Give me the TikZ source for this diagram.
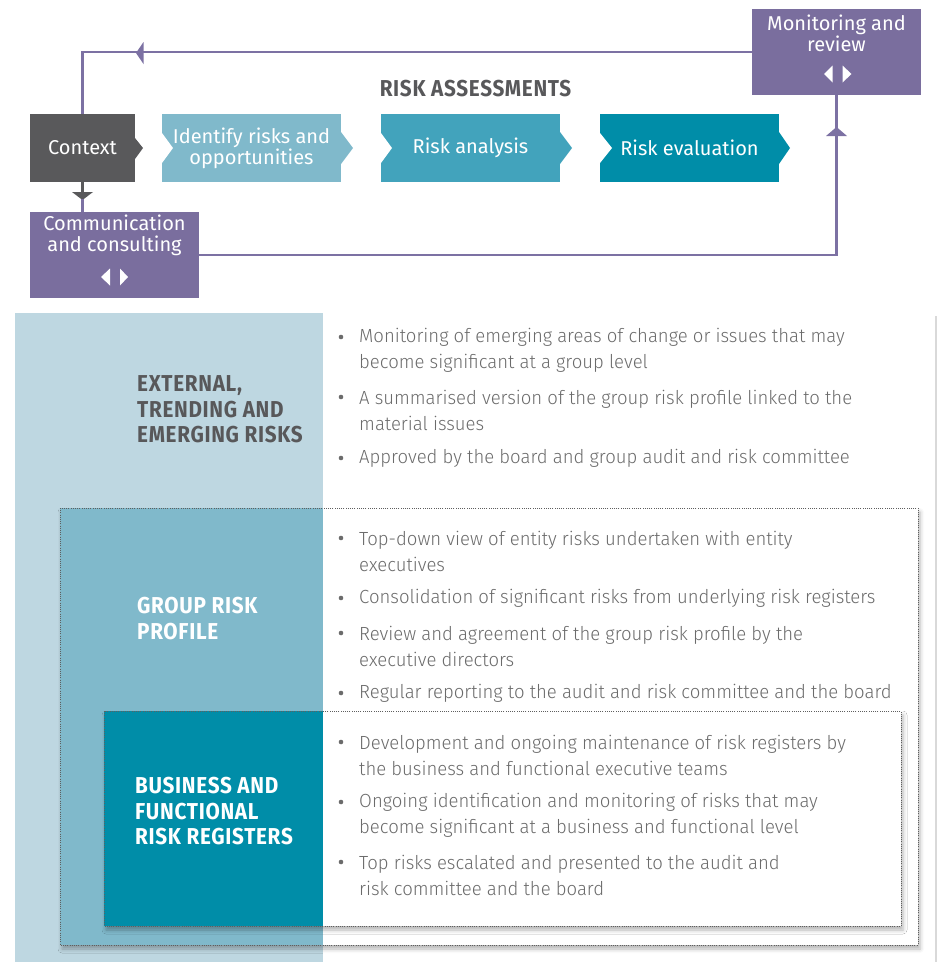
\documentclass[tikz,border=0pt]{standalone}
\usepackage{fontspec}
\setmainfont{Fira Sans}[UprightFont=* Light, BoldFont=* SemiBold, FakeStretch=0.975]
\newfontfamily\boxfont{Fira Sans}
\newfontfamily\headfont{Fira Sans}[UprightFont=* Bold, FakeStretch=0.9, LetterSpace=3]
\usetikzlibrary{shadows.blur}

\definecolor{plum}{HTML}{7A6E9E}
\definecolor{plumline}{HTML}{7C71A3}
\definecolor{cdark}{HTML}{59595B}
\definecolor{clight}{HTML}{80B9CB}
\definecolor{cmid}{HTML}{42A3BC}
\definecolor{cdeep}{HTML}{008DA8}
\definecolor{pale}{HTML}{BED7E1}
\definecolor{ink}{HTML}{6B6B6B}
\definecolor{headgrey}{HTML}{58585A}
\definecolor{dotgrey}{HTML}{5F5F5F}

\begin{document}
\begin{tikzpicture}[x=1pt,y=-1pt,
  stepbox/.style={rectangle, inner sep=0pt, outer sep=0pt, minimum height=68,
    text=white, font=\boxfont\fontsize{20}{21}\selectfont, align=center},
  purplebox/.style={rectangle, fill=plum, inner sep=0pt, outer sep=0pt,
    minimum width=169, minimum height=86},
  boxlabel/.style={text=white, font=\boxfont\fontsize{20}{21}\selectfont,
    align=center, inner sep=0pt},
  flow/.style={draw=plumline, line width=2.6pt},
  bullettext/.style={anchor=west, inner sep=0pt, text=ink, align=left,
    font=\fontsize{19}{26}\selectfont},
  heading/.style={anchor=west, inner sep=0pt, align=left,
    font=\headfont\fontsize{23}{25.5}\selectfont},
  dotborder/.style={draw=dotgrey, line width=1pt, dash pattern=on 1pt off 1.2pt},
  tierbox/.style={fill=white, blur shadow={shadow xshift=2pt, shadow yshift=-4pt,
    shadow blur radius=4pt, shadow opacity=30}},
]
\useasboundingbox (0,0) rectangle (938,962);

% ---------- process steps ----------
\node[stepbox, fill=cdark, minimum width=105] (ctx) at (82.5,148) {Context};
\fill[cdark] (ctx.north east) ++(0,24) -- ++(8,10) -- ++(-8,11) -- cycle;

\node[stepbox, fill=clight, minimum width=179] (idf) at (251.5,148) {Identify risks and\\opportunities};
\fill[clight] (idf.north east) ++(0,18) -- ++(12,16) -- ++(-12,16) -- cycle;
\fill[white] (idf.north west) ++(0,19) -- ++(11,15) -- ++(-11,15) -- cycle;

\node[stepbox, fill=cmid, minimum width=179] (ana) at (470.5,148) {Risk analysis};
\fill[cmid] (ana.north east) ++(0,18) -- ++(12,16) -- ++(-12,16) -- cycle;
\fill[white] (ana.north west) ++(0,19) -- ++(11,15) -- ++(-11,15) -- cycle;

\node[stepbox, fill=cdeep, minimum width=179] (evl) at (689.5,148) {Risk evaluation};
\fill[cdeep] (evl.north east) ++(0,18) -- ++(11,16) -- ++(-11,16) -- cycle;
\fill[white] (evl.north west) ++(0,19) -- ++(12,15) -- ++(-12,15) -- cycle;

\node[text=headgrey, inner sep=0pt, font=\headfont\fontsize{23}{25}\selectfont]
  (ra) at (475.5,89) {RISK ASSESSMENTS};

% ---------- monitoring and communication ----------
\node[purplebox] (mon) at (836.5,52) {};
\node[boxlabel] (monlbl) at ([yshift=18.5pt]mon.center) {Monitoring and\\review};
\fill[white] ([xshift=-12.5pt,yshift=-22pt]mon.center) -- ++(8.5,-8.5) -- ++(0,17) -- cycle;
\fill[white] ([xshift=15pt,yshift=-22pt]mon.center) -- ++(-9,-8.5) -- ++(0,17) -- cycle;

\node[purplebox] (com) at (114.5,255) {};
\node[boxlabel] (comlbl) at ([yshift=19.5pt]com.center) {Communication\\and consulting};
\fill[white] ([xshift=-13.5pt,yshift=-22pt]com.center) -- ++(9,-8.5) -- ++(0,17) -- cycle;
\fill[white] ([xshift=13.5pt,yshift=-22pt]com.center) -- ++(-8,-8.5) -- ++(0,17) -- cycle;

% ---------- feedback loops ----------
\coordinate (tl) at (ctx.north |- mon.west);
\draw[flow] (mon.west) -- (tl) -- (ctx.north);
\coordinate (backtip) at (136,53);
\fill[plumline] (backtip) -- ++(7.5,-11) -- ++(0,22) -- cycle;

\coordinate (downbase) at ([yshift=-10pt]ctx.south);
\draw[draw=cdark, line width=2.6pt] (ctx.south) -- (downbase);
\fill[cdark] ([xshift=-10.5pt]downbase) -- ([xshift=10.5pt]downbase) -- ++(-10.5,8) -- cycle;
\draw[flow] ([yshift=-7pt]downbase) -- (ctx.south |- com.north);

\draw[flow] (com.east) -| (mon.south);
\coordinate (uptip) at (836.5,127);
\fill[plumline] (uptip) -- ++(10.5,9) -- ++(-21,0) -- cycle;

% ---------- tiers ----------
\fill[pale] (15,313) rectangle (323,962);
\fill[gray!30] (934.5,316) rectangle (937,962);

\path[tierbox] (60,508) rectangle (918,945);
\fill[clight] (60,508) rectangle (323,945);
\draw[dotborder] (60,508) rectangle (918,945);

\path[tierbox] (104,711) rectangle (901,926);
\fill[cdeep] (104,711) rectangle (323,926);
\draw[dotborder] (104,711) rectangle (901,926);

\node[heading, text=headgrey] (ext) at (137,409.5) {EXTERNAL,\\TRENDING AND\\EMERGING RISKS};
\node[heading, text=white] (grp) at (137,618.5) {GROUP RISK\\PROFILE};
\node[heading, text=white] (bus) at (135,811.5) {BUSINESS AND\\FUNCTIONAL\\RISK REGISTERS};

% bullet dots
\foreach \yy in {337,397,458,538,598,633,693,742,802,862}
  \fill[ink] (341,\yy) circle (2.3pt);

\node[bullettext] (b11) at (359,350) {Monitoring of emerging areas of change or issues that may\\become significant at a group level};
\node[bullettext] (b12) at (359,410) {A summarised version of the group risk profile linked to the\\material issues};
\node[bullettext] (b13) at (359,458) {Approved by the board and group audit and risk committee};

\node[bullettext] (b21) at (359,551) {Top-down view of entity risks undertaken with entity\\executives};
\node[bullettext] (b22) at (359,598) {Consolidation of significant risks from underlying risk registers};
\node[bullettext] (b23) at (359,646) {Review and agreement of the group risk profile by the\\executive directors};
\node[bullettext] (b24) at (359,693) {Regular reporting to the audit and risk committee and the board};

\node[bullettext] (b31) at (359,755) {Development and ongoing maintenance of risk registers by\\the business and functional executive teams};
\node[bullettext] (b32) at (359,815) {Ongoing identification and monitoring of risks that may\\become significant at a business and functional level};
\node[bullettext] (b33) at (359,875.5) {Top risks escalated and presented to the audit and\\risk committee and the board};
\end{tikzpicture}
\end{document}
